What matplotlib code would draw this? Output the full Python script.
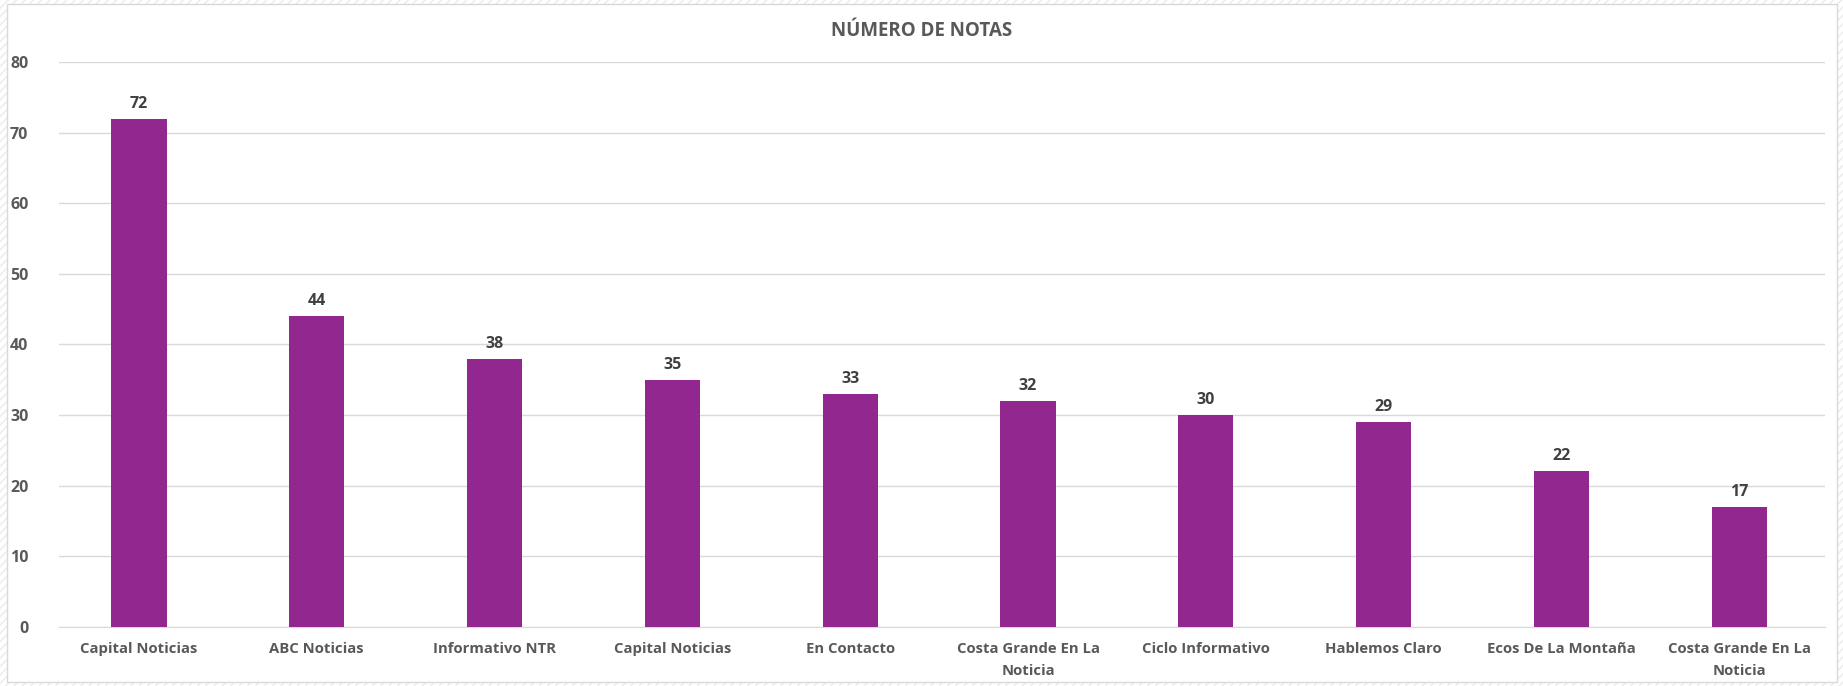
import matplotlib.pyplot as plt
from matplotlib.patches import Rectangle

# data
categorias = ["Capital Noticias", "ABC Noticias", "Informativo NTR", "Capital Noticias",
              "En Contacto", "Costa Grande En La\nNoticia", "Ciclo Informativo",
              "Hablemos Claro", "Ecos De La Montaña", "Costa Grande En La\nNoticia"]
notas = [72, 44, 38, 35, 33, 32, 30, 29, 22, 17]
yticks = [0, 10, 20, 30, 40, 50, 60, 70, 80]

plt.rcParams['font.family'] = ['Open Sans', 'DejaVu Sans']

fig = plt.figure(figsize=(18.43, 6.86), dpi=100)

# light hatched frame around the chart area, like the Excel export
fig.patches.append(Rectangle((0, 0), 1, 1, transform=fig.transFigure,
                             facecolor='white', edgecolor='#ebebeb',
                             hatch='////', linewidth=0, zorder=-2))
fig.patches.append(Rectangle((0.004, 0.006), 0.993, 0.988, transform=fig.transFigure,
                             facecolor='white', edgecolor='#d9d9d9',
                             linewidth=1, zorder=-1))

ax = fig.add_axes([0.032, 0.0866, 0.958, 0.8226])
ax.set_facecolor('none')

x = range(len(notas))
bars = ax.bar(x, notas, width=0.31, color='#92278f', zorder=3)
for xi, v in zip(x, notas):
    ax.annotate(str(v), (xi, v), xytext=(0, 5), textcoords='offset points',
                ha='center', va='bottom', fontsize=11.5, fontweight='bold',
                color='#404040')

ax.set_xlim(-0.45, 9.48)
ax.set_ylim(0, 80)
ax.set_yticks(yticks)
ax.yaxis.grid(True, color='#d9d9d9', linewidth=1)
ax.set_axisbelow(True)
ax.set_xticks(list(x))
ax.set_xticklabels(categorias, fontsize=10.7, fontweight='bold', color='#595959',
                   linespacing=1.75)
for lab in ax.get_yticklabels():
    lab.set_fontsize(11.5)
    lab.set_fontweight('bold')
    lab.set_color('#595959')
ax.tick_params(length=0, pad=11)
ax.tick_params(axis='y', pad=22)
for s in ['top', 'right', 'left']:
    ax.spines[s].set_visible(False)
ax.spines['bottom'].set_color('#d9d9d9')

fig.text(0.5, 0.955, "NÚMERO DE NOTAS", ha='center', va='center',
         fontsize=13.5, fontweight='bold', color='#595959')

fig.savefig('out.png', dpi=100)
